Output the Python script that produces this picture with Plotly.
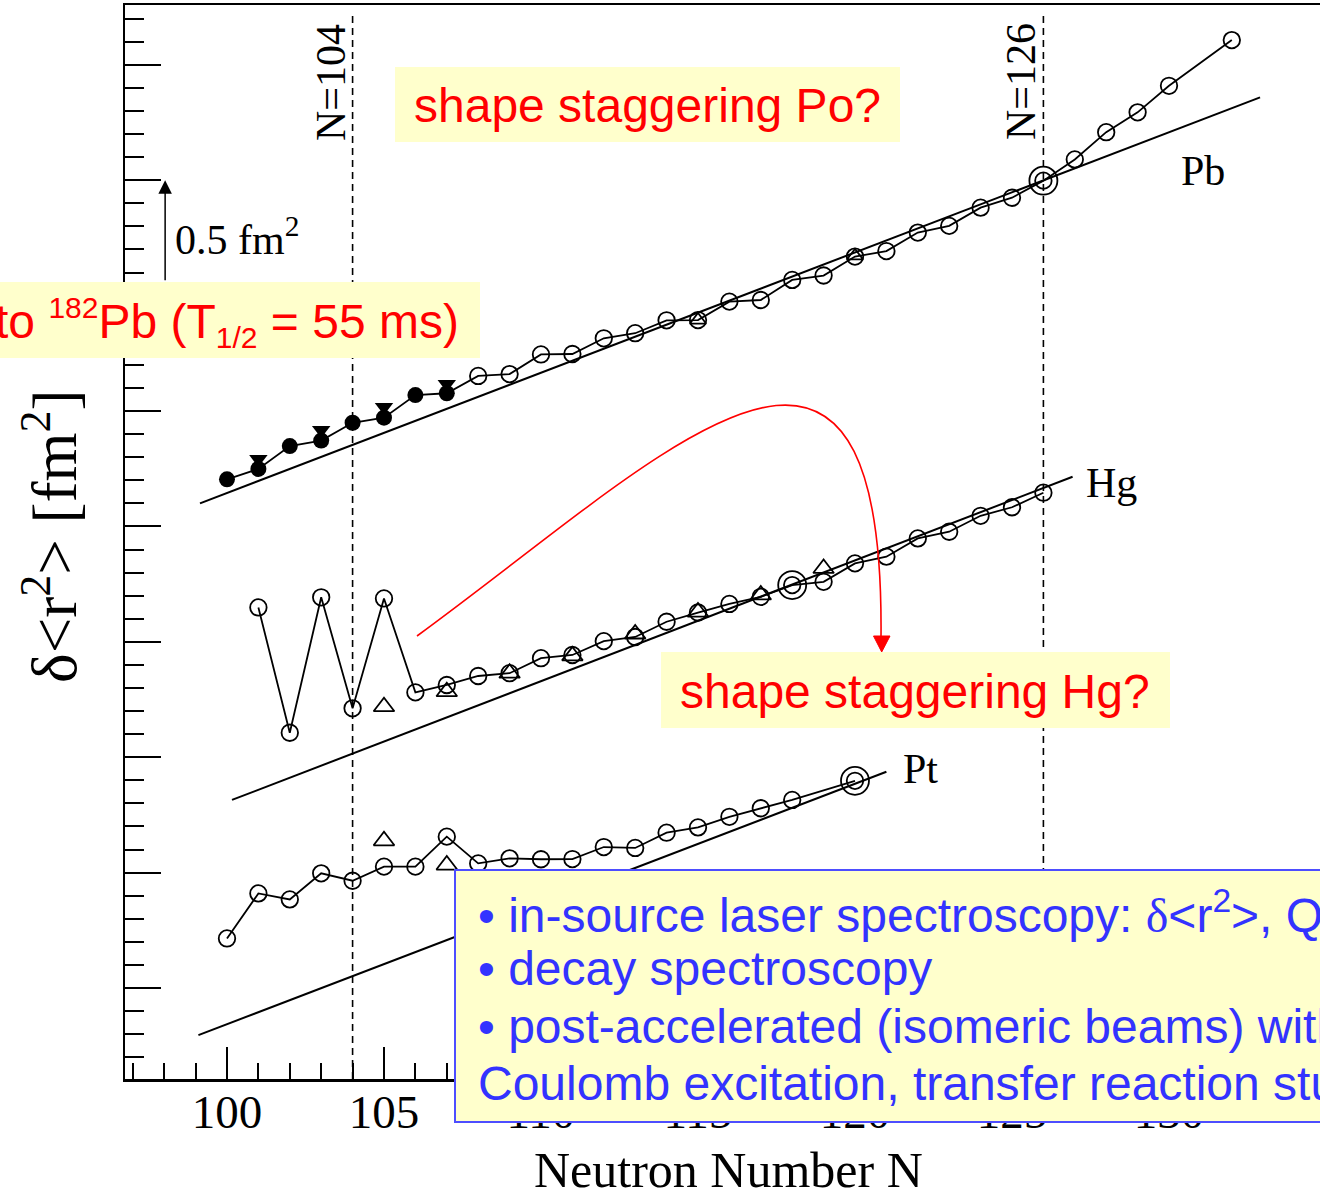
import plotly.graph_objects as go

# ---------------- data: delta<r^2> (fm^2, chains offset vertically) ----------------
PB_FILLED_N = [100, 101, 102, 103, 104, 105, 106, 107]
PB_FILLED_V = [2.204, 2.249, 2.348, 2.372, 2.449, 2.471, 2.569, 2.577]
PB_TRIDOWN_N = [101, 103, 105, 107]
PB_TRIDOWN_V = [2.292, 2.418, 2.517, 2.617]
PB_OPEN_N = [108, 109, 110, 111, 112, 113, 114, 115, 116, 117, 118, 119, 120,
             121, 122, 123, 124, 125, 126, 127, 128, 129, 130, 132]
PB_OPEN_V = [2.652, 2.660, 2.745, 2.747, 2.815, 2.837, 2.893, 2.894, 2.974, 2.981,
             3.068, 3.087, 3.169, 3.193, 3.273, 3.302, 3.381, 3.424, 3.498, 3.590,
             3.708, 3.794, 3.909, 4.107]
PB_TRI_N = [115, 120]
PB_TRI_V = [2.894, 3.172]
PB_REF_N = [99.14, 132.9]
PB_REF_V = [2.100, 3.859]
PB_BIG_N = 126

HG_N = [101, 102, 103, 104, 105, 106, 107, 108, 109, 110, 111, 112, 113, 114,
        115, 116, 117, 118, 119, 120, 121, 122, 123, 124, 125, 126]
HG_V = [1.649, 1.106, 1.693, 1.212, 1.688, 1.281, 1.313, 1.352, 1.364, 1.429,
        1.443, 1.503, 1.521, 1.587, 1.627, 1.664, 1.695, 1.746, 1.760, 1.840,
        1.869, 1.948, 1.977, 2.046, 2.083, 2.146]
HG_TRI_N = [105, 107, 109, 111, 113, 115, 117, 119]
HG_TRI_V = [1.219, 1.284, 1.364, 1.439, 1.534, 1.629, 1.703, 1.818]
HG_REF_N = [100.16, 126.93]
HG_REF_V = [0.815, 2.215]
HG_BIG_N = 118

PT_N = [100, 101, 102, 103, 104, 105, 106, 107, 108, 109, 110, 111, 112, 113,
        114, 115, 116, 117, 118, 120]
PT_V = [0.215, 0.410, 0.384, 0.497, 0.465, 0.526, 0.526, 0.656, 0.540, 0.562,
        0.558, 0.559, 0.611, 0.607, 0.673, 0.696, 0.742, 0.779, 0.815, 0.898]
PT_TRI_N = [105, 107]
PT_TRI_V = [0.638, 0.533]
PT_REF_N = [99.09, 121.0]
PT_REF_V = [-0.204, 0.937]
PT_BIG_N = 120

SHELL_N = [104, 126]
SHELL_LABELS = ["N=104", "N=126"]
SCALE_N = 98.03
SCALE_FROM = 3.0
SCALE_LEN = 0.5

X_RANGE = [96.752, 134.809]
Y_RANGE = [-0.394, 4.259]
X_TICKS = [100, 105, 110, 115, 120, 125, 130, 135]

# ---------------- layout geometry ----------------
W, H = 1320, 1190
ML, MR, MT, MB = 125, 0, 5, 111
PW = W - ML - MR
PH = H - MT - MB


def px(x):
    return (x - ML) / PW


def py(y):
    return (H - MB - y) / PH


SERIF = "Liberation Serif"
SANS = "Liberation Sans"
BLACK = "black"
RED = "#FF0000"
YELLOW = "#FFFFCC"
BLUE = "#3333FF"

fig = go.Figure()


def add_chain(n, v, lw=1.8):
    fig.add_trace(go.Scatter(x=n, y=v, mode="lines",
                             line=dict(color=BLACK, width=lw), hoverinfo="skip"))


def add_markers(n, v, symbol, size, lw=1.8, fill=None):
    fig.add_trace(go.Scatter(
        x=n, y=v, mode="markers",
        marker=dict(symbol=symbol, size=size,
                    color=fill if fill else BLACK,
                    line=dict(color=BLACK, width=lw)),
        hoverinfo="skip"))


# reference (droplet) lines
for rn, rv in [(PB_REF_N, PB_REF_V), (HG_REF_N, HG_REF_V), (PT_REF_N, PT_REF_V)]:
    add_chain(rn, rv, lw=2.0)

# Pb chain
add_chain(PB_FILLED_N + PB_OPEN_N, PB_FILLED_V + PB_OPEN_V)
add_markers(PB_FILLED_N, PB_FILLED_V, "circle", 16, lw=0)
add_markers(PB_TRIDOWN_N, PB_TRIDOWN_V, "triangle-down", 16, lw=0)
add_markers(PB_OPEN_N, PB_OPEN_V, "circle-open", 16.5)
add_markers(PB_TRI_N, PB_TRI_V, "triangle-up-open", 14)
pb_big_v = PB_OPEN_V[PB_OPEN_N.index(PB_BIG_N)]
add_markers([PB_BIG_N], [pb_big_v], "circle-open", 28)

# Hg chain
add_chain(HG_N, HG_V)
add_markers(HG_N, HG_V, "circle-open", 16.5)
add_markers(HG_TRI_N, HG_TRI_V, "triangle-up-open", 18)
hg_big_v = HG_V[HG_N.index(HG_BIG_N)]
add_markers([HG_BIG_N], [hg_big_v], "circle-open", 28)

# Pt chain
add_chain(PT_N, PT_V)
add_markers(PT_N, PT_V, "circle-open", 16.5)
add_markers(PT_TRI_N, PT_TRI_V, "triangle-up-open", 18)
pt_big_v = PT_V[PT_N.index(PT_BIG_N)]
add_markers([PT_BIG_N], [pt_big_v], "circle-open", 28)

shapes = []
# shell closures
for n in SHELL_N:
    shapes.append(dict(type="line", xref="x", yref="y", x0=n, x1=n,
                       y0=Y_RANGE[0], y1=4.229, layer="below",
                       line=dict(color=BLACK, width=1.6, dash="7px,5px")))


def box(x0, y0, x1, y1, border=None):
    return dict(type="rect", xref="paper", yref="paper",
                x0=px(x0), x1=px(x1), y0=py(y1), y1=py(y0),
                fillcolor=YELLOW, layer="above",
                line=dict(color=border if border else YELLOW, width=2 if border else 0))


shapes.append(box(395, 67, 900, 142))
shapes.append(box(661, 652, 1170, 728))
shapes.append(box(-10, 282, 480, 358))
shapes.append(box(455, 870, 1400, 1122, border="#4D4DFF"))

# red curved arrow
P0, P1, P2, P3 = (417, 636), (665, 455), (885, 222), (881, 637)
path = "M{},{} C{},{} {},{} {},{}".format(
    px(P0[0]), py(P0[1]), px(P1[0]), py(P1[1]), px(P2[0]), py(P2[1]), px(P3[0]), py(P3[1]))
shapes.append(dict(type="path", xref="paper", yref="paper", path=path, layer="above",
                   line=dict(color=RED, width=1.6)))
head = "M{},{} L{},{} L{},{} Z".format(px(873.5), py(636), px(890), py(636), px(881.7), py(652))
shapes.append(dict(type="path", xref="paper", yref="paper", path=head, layer="above",
                   fillcolor=RED, line=dict(color=RED, width=1)))

ann = []


def text(x, y, s, size, color=BLACK, family=SERIF, angle=0, xanchor="center"):
    ann.append(dict(xref="paper", yref="paper", x=px(x), y=py(y), text=s,
                    showarrow=False, textangle=angle, xanchor=xanchor, yanchor="middle",
                    font=dict(family=family, size=size, color=color)))


# scale arrow 0.5 fm^2 (tail hidden behind the red box)
ann.append(dict(xref="x", yref="y", axref="x", ayref="y", x=SCALE_N,
                y=SCALE_FROM + SCALE_LEN, ax=SCALE_N, ay=SCALE_FROM + 0.06, text="",
                showarrow=True, arrowhead=2, arrowsize=1.8, arrowwidth=1.5,
                arrowcolor=BLACK, standoff=0))
text(173, 236, "0.5 fm<sup>2</sup>", 42, xanchor="left")

text(331, 83, SHELL_LABELS[0], 42, angle=-90)
text(1021, 82, SHELL_LABELS[1], 42, angle=-90)
text(1203, 171, "Pb", 42)
text(1111, 483, "Hg", 42)
text(920, 769, "Pt", 42)

text(50, 536, "δ&lt;r<sup>2</sup>&gt; [fm<sup>2</sup>]", 63, angle=-90)
text(728, 1170, "Neutron Number N", 50)

text(647, 105, "shape staggering Po?", 48, color=RED, family=SANS)
text(915, 691, "shape staggering Hg?", 48, color=RED, family=SANS)
text(461, 322,
     'to <sup><span style="font-size:30px">182</span></sup>Pb '
     '(T<sub><span style="font-size:30px">1/2</span></sub> = 55 ms)',
     48, color=RED, family=SANS, xanchor="right")

delta = '<span style="font-family:Liberation Serif">δ</span>'
text(476, 912, "• in-source laser spectroscopy: " + delta + "&lt;r<sup>2</sup>&gt;, Q, μ",
     48, color=BLUE, family=SANS, xanchor="left")
text(476, 968, "• decay spectroscopy", 48, color=BLUE, family=SANS, xanchor="left")
text(476, 1026, "• post-accelerated (isomeric beams) with", 48, color=BLUE, family=SANS,
     xanchor="left")
text(476, 1083, "Coulomb excitation, transfer reaction studies", 48, color=BLUE,
     family=SANS, xanchor="left")

fig.update_layout(
    width=W, height=H, autosize=False,
    margin=dict(l=ML, r=MR, t=MT, b=MB, pad=0),
    paper_bgcolor="white", plot_bgcolor="white",
    showlegend=False,
    shapes=shapes, annotations=ann,
    xaxis=dict(range=X_RANGE, showgrid=False, zeroline=False,
               showline=True, linewidth=2.5, linecolor=BLACK, mirror=True,
               ticks="inside", ticklen=32, tickwidth=2, tickcolor=BLACK,
               tickvals=X_TICKS, ticktext=[str(t) for t in X_TICKS],
               tickfont=dict(family=SERIF, size=47, color=BLACK),
               ticklabelstandoff=-10,
               minor=dict(dtick=1, tick0=0, ticks="inside", ticklen=16,
                          tickwidth=2, tickcolor=BLACK, showgrid=False),
               automargin=False),
    yaxis=dict(range=Y_RANGE, showgrid=False, zeroline=False,
               showline=True, linewidth=2.5, linecolor=BLACK, mirror=False,
               ticks="inside", ticklen=36, tickwidth=2, tickcolor=BLACK,
               tick0=0, dtick=0.5, showticklabels=False,
               minor=dict(dtick=0.1, tick0=0, ticks="inside", ticklen=19,
                          tickwidth=2, tickcolor=BLACK, showgrid=False),
               automargin=False),
)

fig.write_html("out.html",
               config={"displayModeBar": False, "staticPlot": True},
               post_script="document.body.style.margin='0';"
                           "document.body.style.overflow='hidden';")
